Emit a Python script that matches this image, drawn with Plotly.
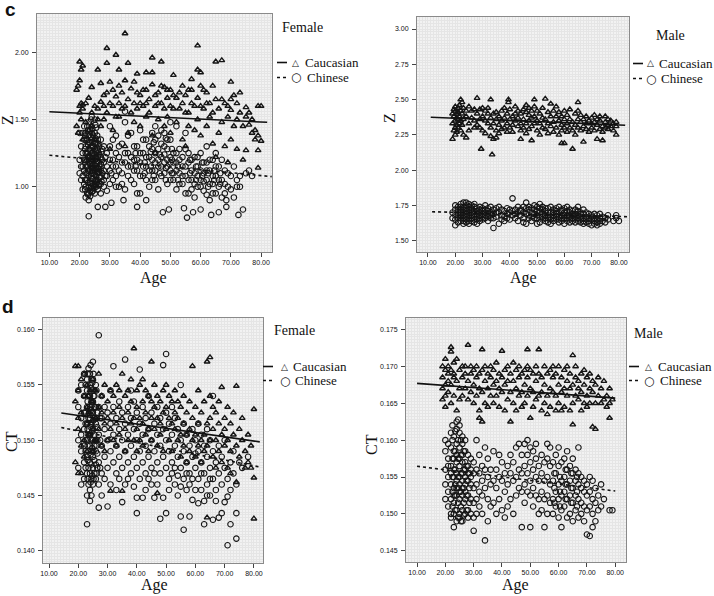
import plotly.graph_objects as go

# ---------------- DATA ----------------
# Panel c, Female: age -> Z values
cF_cau = {19: [1.72, 1.45], 19.5: [1.75, 1.40], 20: [1.79, 1.60, 1.93, 1.55], 20.5: [1.87, 1.62, 1.50],
          21: [1.90, 1.61, 1.58, 1.35], 22: [1.62, 1.48], 23: [1.66, 1.42], 24: [1.74, 1.45, 1.55],
          25: [1.60, 1.35], 26: [1.58, 1.87, 1.50], 27: [1.63, 1.77, 1.45], 28: [1.60, 1.50, 1.68],
          29: [1.70, 2.03, 1.92, 1.55], 30: [1.78, 1.62, 1.28], 31: [1.60, 1.42, 1.72], 32: [1.67, 1.98, 1.52],
          33: [1.75, 1.87, 1.52, 1.62], 34: [1.70, 1.58], 35: [1.79, 2.14, 1.30, 1.60], 36: [1.65, 1.92, 1.40],
          37: [1.73, 1.55], 38: [1.62, 1.48, 1.78], 39: [1.70, 1.84, 1.58], 40: [1.68, 1.45, 1.62],
          41: [1.60, 1.72], 42: [1.72, 1.85, 1.52, 1.62], 43: [1.65, 1.55], 44: [1.76, 1.96, 1.38, 1.85],
          45: [1.60, 1.25, 1.68], 46: [1.70, 1.50, 1.62], 47: [1.62, 1.93, 1.75], 48: [1.74, 1.45, 1.58],
          49: [1.66, 1.52, 1.72], 50: [1.72, 1.40, 1.60], 51: [1.58, 1.83, 1.68], 52: [1.66, 1.48],
          53: [1.70, 1.58], 54: [1.62, 1.35, 1.75], 55: [1.68, 1.30, 1.55], 56: [1.55, 1.45, 1.72],
          57: [1.72, 1.80, 1.62], 58: [1.60, 1.42], 59: [1.66, 2.05, 1.87, 1.50], 60: [1.75, 1.38, 1.85, 1.60],
          61: [1.58, 1.72], 62: [1.70, 1.45, 1.62], 63: [1.62, 1.52], 64: [1.55, 1.32, 1.75],
          65: [1.65, 1.93, 1.22], 66: [1.58, 1.40], 67: [1.48, 1.94, 1.65], 68: [1.62, 1.30],
          69: [1.52, 1.18, 1.60], 70: [1.57, 1.35, 1.78, 1.65], 71: [1.68, 1.45], 72: [1.50, 1.28, 1.62],
          73: [1.55, 1.70], 74: [1.45, 1.20], 75: [1.52, 1.59, 1.27], 76: [1.46, 1.55], 77: [1.40, 1.50],
          78: [1.42, 1.35], 79: [1.38, 1.27, 1.14, 1.60], 80: [1.60, 1.34]}
cF_chi = {20: [1.20, 1.10, 1.40], 20.5: [1.05, 1.30, 1.15], 21: [1.15, 1.25, 0.98, 1.40, 1.08],
          21.5: [1.35, 1.45, 1.02, 1.20, 1.12], 21.8: [1.05, 1.18, 1.28, 1.38, 0.98],
          22: [1.00, 1.10, 1.20, 1.30, 1.40, 0.92, 1.05, 1.15, 1.25, 1.35],
          22.5: [1.05, 1.15, 1.25, 0.95, 1.35, 1.45, 1.10, 1.20], 22.8: [1.03, 1.12, 1.22, 1.31, 1.42, 0.94],
          23: [1.00, 1.08, 1.18, 1.28, 1.38, 1.48, 0.90, 0.95, 1.13, 1.23, 1.33, 0.78],
          23.5: [0.93, 1.12, 1.22, 1.33, 1.03, 1.17, 1.27, 1.42, 0.97], 23.8: [1.00, 1.08, 1.19, 1.29, 1.37, 1.50],
          24: [1.02, 1.10, 1.17, 1.25, 1.35, 1.45, 0.96, 1.06, 1.14, 1.21, 1.30, 1.40, 1.52],
          24.2: [0.99, 1.12, 1.23, 1.33, 1.43],
          24.5: [0.97, 1.06, 1.14, 1.20, 1.30, 1.10, 1.25, 1.38, 1.01, 1.17],
          25: [1.00, 1.09, 1.16, 1.24, 1.40, 1.50, 1.04, 1.12, 1.20, 1.32, 0.95, 1.28],
          25.2: [1.02, 1.14, 1.22, 1.36, 1.46],
          25.5: [1.05, 1.13, 1.21, 1.32, 1.08, 1.17, 1.26, 1.00, 1.44], 25.8: [1.03, 1.11, 1.19, 1.29, 1.38],
          26: [0.98, 1.10, 1.19, 1.27, 0.85, 1.05, 1.14, 1.22, 1.35], 26.2: [1.01, 1.13, 1.24, 1.32],
          26.5: [1.07, 1.15, 1.02, 1.24, 1.30, 1.11], 27: [1.02, 1.12, 1.22, 1.35, 1.07, 1.17, 0.95],
          27.2: [1.04, 1.15, 1.26], 27.5: [1.10, 1.20, 1.28], 28: [1.05, 1.18, 1.00, 1.12, 1.30],
          28.5: [0.85, 1.22, 1.08], 29: [1.25, 0.97, 1.15, 1.08], 30: [1.12, 1.30, 1.02, 1.20, 1.45],
          30.5: [0.88, 1.10], 31: [1.20, 1.05, 1.15, 1.35], 32: [1.15, 1.38, 1.08, 1.25, 1.00],
          33: [1.00, 1.22, 1.12, 1.30], 34: [1.10, 1.32, 1.18, 1.02], 34.5: [0.90],
          35: [1.18, 0.98, 1.48, 1.25, 1.56], 36: [1.25, 1.08, 1.15, 1.38], 37: [1.15, 1.40, 1.05, 1.22],
          38: [1.02, 1.20, 1.12, 1.30], 38.5: [1.15, 1.25], 39: [1.12, 1.30, 0.85, 1.20, 0.95],
          40: [0.95, 1.18, 1.42, 1.25, 1.08], 41: [1.25, 1.08, 1.15, 1.35], 41.5: [1.18, 1.10],
          42: [1.15, 1.35, 0.90, 1.22, 1.05], 43: [1.00, 1.22, 1.12, 1.30], 43.5: [1.15, 1.26],
          44: [1.12, 1.40, 1.20, 1.05, 1.28], 44.5: [1.08, 1.33],
          45: [1.18, 1.05, 1.45, 1.25, 1.35, 1.12], 46: [1.28, 0.98, 1.15, 1.38, 1.20], 46.5: [1.10, 1.24],
          47: [1.15, 1.22, 1.32, 1.08, 1.42], 47.5: [0.81], 48: [1.10, 1.30, 1.40, 1.18, 1.24],
          48.5: [1.14, 1.36, 1.05], 49: [1.20, 1.02, 1.15, 1.28, 1.35], 49.5: [0.83],
          50: [1.12, 1.35, 1.48, 1.22, 1.05, 1.18], 50.5: [1.20, 1.28, 1.10],
          51: [1.05, 1.18, 1.25, 1.10], 52: [1.25, 0.98, 1.45, 1.12, 1.18], 52.5: [1.15, 1.05],
          53: [1.10, 1.20, 1.02, 1.28], 54: [1.15, 1.02, 1.08, 1.22], 54.5: [0.84],
          55: [1.08, 1.28, 1.40, 1.15, 0.95], 55.5: [0.77], 56: [1.18, 0.95, 1.05, 1.25], 56.5: [1.10, 1.20],
          57: [1.12, 1.05, 1.20, 0.98], 57.5: [0.81], 58: [1.22, 0.92, 1.10, 1.02], 58.5: [1.15, 1.05],
          59: [1.08, 1.15, 1.00, 1.22], 60: [1.00, 1.25, 0.83, 1.12, 1.05], 60.5: [1.08, 1.18],
          61: [1.10, 0.97, 1.18, 1.04], 62: [1.05, 1.18, 1.30, 0.94, 1.12], 62.5: [1.10, 1.00],
          63: [1.12, 0.90, 1.02, 1.20], 63.5: [0.79], 64: [1.02, 1.20, 1.08, 0.95], 64.5: [1.12, 1.05],
          65: [1.08, 0.95, 1.25, 1.15], 66: [1.15, 1.00, 0.81, 1.05], 66.5: [1.10, 1.02],
          67: [1.05, 1.20, 0.92], 68: [1.12, 0.95, 1.02], 68.5: [0.85, 0.90], 69: [1.00, 1.10],
          70: [1.08, 0.98], 71: [0.92, 1.15], 72: [1.05, 1.00], 72.5: [0.79], 73: [1.00, 1.08],
          74: [0.83], 75: [1.10], 76: [1.12], 77: [1.08]}

# Panel c, Male: age -> Z values
cM_cau = {19: [2.22, 2.33, 2.40], 19.5: [2.28, 2.38, 2.43], 20: [2.25, 2.35, 2.42, 2.30, 2.45],
          20.5: [2.32, 2.40, 2.27, 2.37], 21: [2.36, 2.44, 2.30, 2.41], 21.5: [2.38, 2.33, 2.46],
          22: [2.50, 2.35, 2.42, 2.28], 22.5: [2.40, 2.48, 2.32], 23: [2.36, 2.44, 2.25], 24: [2.23, 2.38, 2.42],
          25: [2.33, 2.45, 2.28], 26: [2.37, 2.42], 27: [2.35, 2.43, 2.30], 28: [2.51, 2.40, 2.32],
          29: [2.43, 2.36, 2.30], 29.5: [2.15], 30: [2.38, 2.44, 2.28], 31: [2.35, 2.42, 2.26],
          32: [2.40, 2.33, 2.44], 33: [2.50, 2.37, 2.24, 2.30], 33.5: [2.11], 34: [2.33, 2.22, 2.40],
          35: [2.28, 2.36, 2.23, 2.41], 36: [2.32, 2.38, 2.26], 37: [2.35, 2.42, 2.29], 38: [2.30, 2.37, 2.44],
          39: [2.33, 2.40, 2.27], 39.5: [2.50, 2.48], 40: [2.36, 2.43, 2.30], 41: [2.32, 2.38, 2.27],
          42: [2.40, 2.35, 2.45], 43: [2.31, 2.37, 2.42], 44: [2.22, 2.33, 2.40, 2.28], 45: [2.36, 2.43, 2.30],
          46: [2.41, 2.33, 2.46, 2.26], 47: [2.35, 2.39, 2.29, 2.44], 48: [2.31, 2.42, 2.37, 2.21],
          49: [2.50, 2.38, 2.33, 2.45], 50: [2.35, 2.42, 2.28], 51: [2.40, 2.33, 2.25], 52: [2.30, 2.37, 2.44],
          53: [2.505, 2.36, 2.29], 54: [2.41, 2.33, 2.26], 55: [2.38, 2.47, 2.31], 56: [2.34, 2.42, 2.27],
          57: [2.30, 2.38, 2.45], 58: [2.25, 2.35, 2.41], 59: [2.19, 2.32, 2.38, 2.28], 60: [2.19, 2.36, 2.42, 2.30],
          61: [2.33, 2.27, 2.39], 62: [2.30, 2.36, 2.43], 63: [2.15, 2.34, 2.28], 64: [2.32, 2.40, 2.25],
          65: [2.48, 2.36, 2.30, 2.42], 66: [2.34, 2.28, 2.39], 67: [2.20, 2.31, 2.36], 68: [2.33, 2.29, 2.38],
          69: [2.35, 2.27], 70: [2.30, 2.37, 2.33], 71: [2.39, 2.28, 2.34], 72: [2.22, 2.32, 2.36],
          73: [2.35, 2.29, 2.38], 74: [2.21, 2.31, 2.27], 75: [2.38, 2.30, 2.34], 76: [2.36, 2.29, 2.32],
          77: [2.31, 2.35], 78: [2.28, 2.33], 79: [2.25, 2.31, 2.34]}
cM_chi = {19: [1.70, 1.66], 20: [1.68, 1.72, 1.65, 1.75, 1.61], 21: [1.66, 1.70, 1.74, 1.63, 1.72, 1.68],
          22: [1.64, 1.68, 1.72, 1.76, 1.66, 1.70, 1.74], 23: [1.62, 1.66, 1.70, 1.74, 1.77, 1.68, 1.72, 1.64],
          24: [1.63, 1.67, 1.71, 1.75, 1.69, 1.73, 1.65, 1.77], 25: [1.62, 1.66, 1.70, 1.74, 1.68, 1.72, 1.76, 1.64],
          26: [1.64, 1.68, 1.72, 1.75, 1.66, 1.70, 1.73], 27: [1.63, 1.67, 1.71, 1.74, 1.69, 1.65, 1.76],
          28: [1.65, 1.69, 1.73, 1.67, 1.71, 1.62], 29: [1.66, 1.70, 1.74, 1.68, 1.72, 1.64],
          30: [1.65, 1.69, 1.73, 1.67, 1.71], 31: [1.66, 1.70, 1.68, 1.72, 1.75], 32: [1.67, 1.71, 1.69, 1.64, 1.73],
          33: [1.66, 1.70, 1.74, 1.68], 34: [1.59, 1.69, 1.72, 1.66], 35: [1.70, 1.67, 1.73], 36: [1.62, 1.70, 1.74],
          37: [1.68, 1.72, 1.65], 38: [1.71, 1.67, 1.64], 39: [1.69, 1.73, 1.66], 40: [1.70, 1.65, 1.72],
          41: [1.80, 1.68, 1.71], 42: [1.72, 1.66, 1.69], 43: [1.70, 1.74, 1.64], 44: [1.68, 1.72, 1.71],
          45: [1.66, 1.70, 1.74, 1.63], 46: [1.77, 1.69, 1.73, 1.62], 47: [1.68, 1.72, 1.66, 1.74],
          48: [1.70, 1.67, 1.73, 1.64], 49: [1.69, 1.72, 1.66, 1.75], 50: [1.62, 1.68, 1.71, 1.74, 1.66],
          51: [1.63, 1.67, 1.70, 1.73, 1.76], 52: [1.65, 1.69, 1.72, 1.67, 1.74], 53: [1.64, 1.68, 1.71, 1.66, 1.73],
          54: [1.66, 1.70, 1.73, 1.68, 1.63], 55: [1.62, 1.67, 1.70, 1.74, 1.65], 56: [1.64, 1.68, 1.72, 1.66, 1.70],
          57: [1.65, 1.69, 1.73, 1.67, 1.71], 58: [1.63, 1.67, 1.70, 1.74, 1.65], 59: [1.64, 1.68, 1.71, 1.66, 1.72],
          60: [1.62, 1.66, 1.70, 1.73, 1.68], 61: [1.64, 1.68, 1.71, 1.66, 1.74], 62: [1.63, 1.67, 1.70, 1.65, 1.72],
          63: [1.64, 1.68, 1.71, 1.66, 1.69], 64: [1.65, 1.69, 1.72, 1.67, 1.63], 65: [1.64, 1.68, 1.71, 1.74, 1.66],
          66: [1.63, 1.67, 1.70, 1.65, 1.69], 67: [1.62, 1.66, 1.69, 1.72, 1.64], 68: [1.63, 1.67, 1.70, 1.65],
          69: [1.62, 1.66, 1.69, 1.64], 70: [1.61, 1.65, 1.68, 1.67], 71: [1.62, 1.66, 1.69, 1.64],
          72: [1.61, 1.65, 1.68, 1.63], 73: [1.62, 1.66, 1.64, 1.69], 74: [1.64, 1.67], 75: [1.66, 1.63],
          76: [1.68, 1.65], 78: [1.64], 79: [1.66, 1.68], 80: [1.64]}

# Panel d, Female: age -> CT values
dF_cau = {19: [0.1535, 0.1480, 0.1567], 20: [0.1510, 0.1545, 0.1470, 0.1520, 0.1567],
          21: [0.1525, 0.1495, 0.1555, 0.1470], 22: [0.1500, 0.1540, 0.1485, 0.1560],
          23: [0.1515, 0.1490, 0.1550, 0.1530], 23.5: [0.1540, 0.1505, 0.1525], 24: [0.1525, 0.1505, 0.1545],
          24.5: [0.1515, 0.1535], 25: [0.1510, 0.1535, 0.1490, 0.1555], 25.5: [0.1500, 0.1545],
          26: [0.1520, 0.1500, 0.1545], 27: [0.1530, 0.1510, 0.1560], 28: [0.1495, 0.1525, 0.1540],
          29: [0.1515, 0.1550, 0.1490], 30: [0.1520, 0.1535, 0.1500], 31: [0.1510, 0.1545, 0.1454],
          32: [0.1525, 0.1500, 0.1540], 33: [0.1515, 0.1550, 0.1495], 34: [0.1530, 0.1505, 0.1545],
          35: [0.1520, 0.1454, 0.1560], 36: [0.1510, 0.1540, 0.1490], 37: [0.1525, 0.1545, 0.1500],
          38: [0.1515, 0.1535, 0.1555], 39: [0.1583, 0.1520, 0.1500], 40: [0.1530, 0.1510, 0.1545, 0.1490],
          41: [0.1520, 0.1550, 0.1500], 42: [0.1535, 0.1515, 0.1555, 0.1495], 43: [0.1525, 0.1505, 0.1545],
          44: [0.1540, 0.1510, 0.1490], 45: [0.1571, 0.1520, 0.1535, 0.1500], 46: [0.1530, 0.1510, 0.1550],
          47: [0.1452, 0.1520, 0.1540, 0.1495], 48: [0.1515, 0.1535, 0.1505], 49: [0.1525, 0.1545, 0.1490],
          50: [0.1530, 0.1510, 0.1550], 51: [0.1520, 0.1500, 0.1540], 52: [0.1535, 0.1515, 0.1490],
          53: [0.1510, 0.1525, 0.1545], 54: [0.1520, 0.1500, 0.1535], 55: [0.1505, 0.1530, 0.1485],
          56: [0.1515, 0.1540, 0.1495], 57: [0.1525, 0.1505, 0.1480], 58: [0.1510, 0.1535, 0.1490],
          59: [0.1567, 0.1520, 0.1500], 60: [0.1505, 0.1530, 0.1485], 61: [0.1515, 0.1495, 0.1545],
          62: [0.1525, 0.1500, 0.1480], 63: [0.1505, 0.1535, 0.1490], 64: [0.1571, 0.1515, 0.1495, 0.1430],
          65: [0.1520, 0.1500, 0.1540, 0.1575], 66: [0.1510, 0.1485, 0.1530], 67: [0.1500, 0.1525, 0.1475],
          68: [0.1515, 0.1490, 0.1535], 69: [0.1548, 0.1505, 0.1480], 70: [0.1520, 0.1495, 0.1510],
          71: [0.1500, 0.1530, 0.1475], 72: [0.1515, 0.1490, 0.1470], 73: [0.1505, 0.1525],
          74: [0.1549, 0.1462, 0.1495], 75: [0.1510, 0.1485], 76: [0.1500, 0.1520], 77: [0.1490, 0.1475],
          78: [0.1505, 0.1480], 79: [0.1495, 0.1475], 80: [0.1528, 0.1466, 0.1429]}
dF_chi = {20: [0.1500, 0.1530, 0.1475, 0.1545], 21: [0.1490, 0.1520, 0.1460, 0.1550, 0.1505],
          22: [0.1480, 0.1510, 0.1540, 0.1465, 0.1525, 0.1495, 0.1560],
          22.5: [0.1475, 0.1500, 0.1525, 0.1550, 0.1490, 0.1515],
          23: [0.1470, 0.1500, 0.1530, 0.1555, 0.1485, 0.1515, 0.1450, 0.1545, 0.1424],
          23.2: [0.1465, 0.1495, 0.1510, 0.1535, 0.1560, 0.1482],
          23.5: [0.1460, 0.1490, 0.1520, 0.1540, 0.1505, 0.1475, 0.1565],
          24: [0.1455, 0.1480, 0.1505, 0.1530, 0.1550, 0.1470, 0.1495, 0.1520, 0.1540, 0.1445, 0.1560],
          24.2: [0.1462, 0.1487, 0.1512, 0.1527, 0.1547, 0.1568],
          24.5: [0.1465, 0.1490, 0.1515, 0.1535, 0.1500, 0.1478, 0.1525, 0.1555, 0.1450],
          24.8: [0.1468, 0.1493, 0.1508, 0.1532, 0.1552],
          25: [0.1460, 0.1485, 0.1510, 0.1535, 0.1555, 0.1475, 0.1500, 0.1525, 0.1545, 0.1571],
          25.2: [0.1465, 0.1490, 0.1518, 0.1540, 0.1560],
          25.5: [0.1470, 0.1495, 0.1520, 0.1540, 0.1505, 0.1482, 0.1530],
          26: [0.1465, 0.1490, 0.1515, 0.1500, 0.1530, 0.1550, 0.1478], 26.2: [0.1470, 0.1495, 0.1520, 0.1545],
          26.5: [0.1475, 0.1500, 0.1525, 0.1488, 0.1512], 27: [0.1480, 0.1505, 0.1439, 0.1460, 0.1530, 0.1595],
          27.5: [0.1475, 0.1500, 0.1520],
          28: [0.1470, 0.1495, 0.1520, 0.1450, 0.1540], 29: [0.1485, 0.1510, 0.1465, 0.1530],
          30: [0.1475, 0.1500, 0.1440, 0.1525], 31: [0.1490, 0.1460, 0.1515, 0.1545],
          32: [0.1480, 0.1505, 0.1567, 0.1530], 33: [0.1470, 0.1495, 0.1520, 0.1455],
          34: [0.1485, 0.1510, 0.1465, 0.1535], 35: [0.1475, 0.1444, 0.1500, 0.1525],
          36: [0.1490, 0.1573, 0.1460, 0.1515], 37: [0.1480, 0.1505, 0.1530, 0.1465],
          38: [0.1470, 0.1495, 0.1520, 0.1545], 39: [0.1485, 0.1458, 0.1510, 0.1535],
          40: [0.1434, 0.1448, 0.1475, 0.1500, 0.1525], 41: [0.1490, 0.1564, 0.1465, 0.1515],
          42: [0.1448, 0.1480, 0.1505, 0.1530], 43: [0.1470, 0.1495, 0.1520, 0.1455],
          44: [0.1485, 0.1510, 0.1465, 0.1540], 45: [0.1475, 0.1500, 0.1525, 0.1460],
          46: [0.1448, 0.1490, 0.1515, 0.1470], 47: [0.1480, 0.1505, 0.1530, 0.1460],
          48: [0.1429, 0.1470, 0.1495, 0.1520], 49: [0.1568, 0.1448, 0.1485, 0.1510],
          50: [0.1578, 0.1434, 0.1475, 0.1500, 0.1525], 51: [0.1465, 0.1490, 0.1515, 0.1455],
          52: [0.1480, 0.1505, 0.1470, 0.1530], 53: [0.1460, 0.1495, 0.1520, 0.1475],
          54: [0.1450, 0.1485, 0.1510, 0.1468], 55: [0.1431, 0.1475, 0.1500, 0.1458, 0.1550],
          56: [0.1419, 0.1465, 0.1490, 0.1515], 57: [0.1455, 0.1480, 0.1505, 0.1470],
          58: [0.1431, 0.1470, 0.1495, 0.1460], 59: [0.1446, 0.1485, 0.1510, 0.1465],
          60: [0.1475, 0.1500, 0.1455, 0.1488], 61: [0.1443, 0.1465, 0.1490, 0.1515],
          62: [0.1455, 0.1480, 0.1505, 0.1470], 63: [0.1424, 0.1445, 0.1470, 0.1495],
          64: [0.1460, 0.1485, 0.1450, 0.1510], 65: [0.1450, 0.1475, 0.1500, 0.1465],
          66: [0.1428, 0.1465, 0.1490, 0.1540], 67: [0.1455, 0.1480, 0.1445], 68: [0.1430, 0.1470, 0.1495],
          69: [0.1434, 0.1460, 0.1485], 70: [0.1444, 0.1475, 0.1500], 71: [0.1405, 0.1449, 0.1465],
          72: [0.1424, 0.1480, 0.1455], 73: [0.1470, 0.1490], 74: [0.1411, 0.1434, 0.1460],
          75: [0.1480], 76: [0.1475], 78: [0.1485]}

# Panel d, Male: age -> CT values
dM_cau = {19: [0.1685, 0.1670, 0.1655, 0.1700], 20: [0.1695, 0.1675, 0.1660, 0.1645, 0.1710],
          21: [0.1700, 0.1680, 0.1665, 0.1690], 22: [0.1726, 0.1720, 0.1695, 0.1675, 0.1650],
          23: [0.1705, 0.1685, 0.1660, 0.1690], 24: [0.1710, 0.1680, 0.1640], 25: [0.1695, 0.1670, 0.1655],
          26: [0.1700, 0.1685, 0.1660], 27: [0.1690, 0.1670, 0.1700], 28: [0.1729, 0.1680, 0.1655],
          29: [0.1700, 0.1665, 0.1690], 30: [0.1695, 0.1675, 0.1650], 31: [0.1700, 0.1660, 0.1685],
          32: [0.1690, 0.1670, 0.1640, 0.1630], 33: [0.1723, 0.1695, 0.1665, 0.1625], 34: [0.1680, 0.1650, 0.1700],
          35: [0.1690, 0.1670, 0.1645], 36: [0.1685, 0.1660, 0.1700], 37: [0.1695, 0.1675, 0.1650],
          38: [0.1680, 0.1660, 0.1705], 39: [0.1690, 0.1670, 0.1645], 40: [0.1721, 0.1685, 0.1665],
          41: [0.1695, 0.1675, 0.1640], 42: [0.1700, 0.1680, 0.1655], 43: [0.1690, 0.1665, 0.1625],
          44: [0.1705, 0.1680, 0.1650], 45: [0.1695, 0.1670, 0.1640], 46: [0.1700, 0.1685, 0.1660],
          47: [0.1690, 0.1665, 0.1645], 48: [0.1695, 0.1675, 0.1650], 49: [0.1723, 0.1685, 0.1660, 0.1700],
          50: [0.1695, 0.1670, 0.1630], 51: [0.1690, 0.1665, 0.1645], 52: [0.1700, 0.1680, 0.1655],
          53: [0.1723, 0.1690, 0.1660], 54: [0.1685, 0.1665, 0.1640], 55: [0.1700, 0.1675, 0.1650],
          56: [0.1690, 0.1660, 0.1635], 57: [0.1695, 0.1670, 0.1645], 58: [0.1685, 0.1665, 0.1700],
          59: [0.1690, 0.1660, 0.1640], 60: [0.1700, 0.1675, 0.1650], 61: [0.1685, 0.1665, 0.1640],
          62: [0.1695, 0.1670, 0.1645], 63: [0.1680, 0.1660, 0.1700], 64: [0.1690, 0.1670, 0.1640],
          65: [0.1715, 0.1675, 0.1650, 0.1621], 66: [0.1685, 0.1660, 0.1700], 67: [0.1680, 0.1655, 0.1670],
          68: [0.1690, 0.1665, 0.1640], 69: [0.1675, 0.1650, 0.1695], 70: [0.1685, 0.1660, 0.1645],
          71: [0.1670, 0.1690, 0.1650], 72: [0.1618, 0.1665, 0.1680], 73: [0.1675, 0.1650, 0.1615],
          74: [0.1685, 0.1660], 75: [0.1670, 0.1650], 76: [0.1680, 0.1655], 77: [0.1660, 0.1645],
          78: [0.1630, 0.1650, 0.1670], 79: [0.1655]}
dM_chi = {20: [0.1560, 0.1540, 0.1585, 0.1520, 0.1600], 21: [0.1550, 0.1530, 0.1575, 0.1510, 0.1595, 0.1565],
          22: [0.1540, 0.1520, 0.1565, 0.1500, 0.1590, 0.1555, 0.1610, 0.1495],
          22.5: [0.1530, 0.1550, 0.1575, 0.1600, 0.1510, 0.1620],
          23: [0.1535, 0.1515, 0.1560, 0.1500, 0.1585, 0.1550, 0.1605, 0.1482, 0.1525, 0.1575],
          23.5: [0.1540, 0.1560, 0.1585, 0.1505, 0.1525, 0.1612],
          24: [0.1545, 0.1525, 0.1570, 0.1505, 0.1595, 0.1555, 0.1615, 0.1490, 0.1535, 0.1580, 0.1625],
          24.5: [0.1535, 0.1550, 0.1575, 0.1600, 0.1515, 0.1495, 0.1628],
          25: [0.1540, 0.1520, 0.1565, 0.1500, 0.1590, 0.1550, 0.1610, 0.1495, 0.1530, 0.1575, 0.1620],
          25.5: [0.1530, 0.1555, 0.1580, 0.1600, 0.1510, 0.1490],
          26: [0.1545, 0.1525, 0.1570, 0.1505, 0.1595, 0.1555, 0.1605, 0.1490, 0.1535, 0.1580],
          26.5: [0.1535, 0.1560, 0.1585, 0.1515, 0.1498],
          27: [0.1540, 0.1520, 0.1560, 0.1500, 0.1585, 0.1550, 0.1600, 0.1530, 0.1570],
          27.5: [0.1545, 0.1565, 0.1525, 0.1505],
          28: [0.1545, 0.1525, 0.1565, 0.1505, 0.1580, 0.1555, 0.1495], 28.5: [0.1535, 0.1555, 0.1515],
          29: [0.1540, 0.1520, 0.1560, 0.1500, 0.1575, 0.1550], 30: [0.1535, 0.1515, 0.1555, 0.1477, 0.1570, 0.1495],
          31: [0.1540, 0.1520, 0.1560, 0.1600, 0.1500], 32: [0.1530, 0.1555, 0.1510, 0.1580],
          33: [0.1545, 0.1525, 0.1565, 0.1500], 34: [0.1464, 0.1535, 0.1560, 0.1590],
          35: [0.1550, 0.1520, 0.1575, 0.1490], 36: [0.1540, 0.1510, 0.1560], 37: [0.1545, 0.1585, 0.1515],
          38: [0.1535, 0.1560, 0.1500], 39: [0.1550, 0.1580, 0.1520], 40: [0.1545, 0.1570, 0.1505],
          41: [0.1530, 0.1555, 0.1495], 42: [0.1540, 0.1565, 0.1510], 43: [0.1555, 0.1520, 0.1580],
          44: [0.1545, 0.1500, 0.1570], 45: [0.1550, 0.1525, 0.1590], 46: [0.1560, 0.1535, 0.1595],
          47: [0.1482, 0.1555, 0.1580, 0.1530], 48: [0.1565, 0.1540, 0.1595, 0.1515],
          49: [0.1555, 0.1580, 0.1530, 0.1600], 50: [0.1482, 0.1545, 0.1570, 0.1525, 0.1590],
          51: [0.1560, 0.1535, 0.1585, 0.1510], 52: [0.1550, 0.1575, 0.1525, 0.1595],
          53: [0.1545, 0.1565, 0.1520, 0.1500], 54: [0.1555, 0.1530, 0.1580, 0.1505],
          55: [0.1482, 0.1545, 0.1570, 0.1520], 56: [0.1550, 0.1525, 0.1575, 0.1500, 0.1595],
          57: [0.1540, 0.1565, 0.1515, 0.1590], 58: [0.1545, 0.1520, 0.1570, 0.1500],
          58.5: [0.1535, 0.1555, 0.1515], 59: [0.1555, 0.1530, 0.1580, 0.1510],
          60: [0.1540, 0.1520, 0.1565, 0.1495, 0.1590], 60.5: [0.1530, 0.1550, 0.1510],
          61: [0.1482, 0.1545, 0.1525, 0.1570, 0.1505], 62: [0.1550, 0.1530, 0.1575, 0.1510],
          62.5: [0.1540, 0.1560, 0.1520], 63: [0.1540, 0.1520, 0.1560, 0.1495, 0.1585],
          64: [0.1545, 0.1525, 0.1565, 0.1500], 64.5: [0.1535, 0.1555, 0.1515],
          65: [0.1535, 0.1515, 0.1555, 0.1490, 0.1575], 66: [0.1545, 0.1525, 0.1560, 0.1505],
          66.5: [0.1530, 0.1550, 0.1510], 67: [0.1540, 0.1520, 0.1555, 0.1495, 0.1590],
          68: [0.1535, 0.1515, 0.1550, 0.1500], 69: [0.1530, 0.1510, 0.1545, 0.1490],
          70: [0.1472, 0.1525, 0.1505, 0.1540], 71: [0.1470, 0.1530, 0.1510, 0.1550],
          72: [0.1482, 0.1520, 0.1500, 0.1545], 73: [0.1515, 0.1535, 0.1490], 74: [0.1525, 0.1505],
          75: [0.1510, 0.1540], 76: [0.1520], 78: [0.1505], 79: [0.1505]}

# Regression (fit) lines: end points
cF_fit_cau_age, cF_fit_cau = [10, 82], [1.558, 1.479]
cF_fit_chi_age, cF_fit_chi = [10, 83.5], [1.234, 1.075]
cM_fit_cau_age, cM_fit_cau = [11, 82.3], [2.375, 2.318]
cM_fit_chi_age, cM_fit_chi = [11.5, 83.3], [1.705, 1.670]
dF_fit_cau_age, dF_fit_cau = [14.2, 82], [0.15247, 0.14985]
dF_fit_chi_age, dF_fit_chi = [14.2, 82], [0.15115, 0.14758]
dM_fit_cau_age, dM_fit_cau = [10, 80], [0.1677, 0.1657]
dM_fit_chi_age, dM_fit_chi = [10, 80], [0.15646, 0.1531]

x_ticks = [10, 20, 30, 40, 50, 60, 70, 80]
cF_yticks = [1.00, 1.50, 2.00]
cM_yticks = [1.50, 1.75, 2.00, 2.25, 2.50, 2.75, 3.00]
dF_yticks = [0.140, 0.145, 0.150, 0.155, 0.160]
dM_yticks = [0.145, 0.150, 0.155, 0.160, 0.165, 0.170, 0.175]

# ---------------- FIGURE ----------------
W, H = 714, 596
def fx(p): return p / W
def fy(p): return 1 - p / H

def flat(d):
    xs, ys = [], []
    for a, vals in d.items():
        for v in vals:
            xs.append(a); ys.append(v)
    return xs, ys

MK = '#151515'
fig = go.Figure()

panels = [
    dict(ax='', cau=cF_cau, chi=cF_chi,
         fca=(cF_fit_cau_age, cF_fit_cau), fch=(cF_fit_chi_age, cF_fit_chi),
         xd=(37, 272), yd=(14, 252), xr=[5.9, 83.6], yr=[0.514, 2.285], yt=cF_yticks, yf='.2f', ym=0.02),
    dict(ax='2', cau=cM_cau, chi=cM_chi,
         fca=(cM_fit_cau_age, cM_fit_cau), fch=(cM_fit_chi_age, cM_fit_chi),
         xd=(417, 629), yd=(17, 252), xr=[5.97, 83.7], yr=[1.42, 3.085], yt=cM_yticks, yf='.2f', ym=0.02),
    dict(ax='3', cau=dF_cau, chi=dF_chi,
         fca=(dF_fit_cau_age, dF_fit_cau), fch=(dF_fit_chi_age, dF_fit_chi),
         xd=(43, 263), yd=(318, 563), xr=[7.95, 83.1], yr=[0.13889, 0.16106], yt=dF_yticks, yf='.3f', ym=0.00025),
    dict(ax='4', cau=dM_cau, chi=dM_chi,
         fca=(dM_fit_cau_age, dM_fit_cau), fch=(dM_fit_chi_age, dM_fit_chi),
         xd=(406, 626), yd=(318, 562), xr=[6.1, 83.8], yr=[0.14347, 0.17657], yt=dM_yticks, yf='.3f', ym=0.0004),
]

layout_axes = {}
for p in panels:
    xa, ya = 'x' + p['ax'], 'y' + p['ax']
    cx, cy = flat(p['cau'])
    hx, hy = flat(p['chi'])
    fig.add_trace(go.Scatter(x=hx, y=hy, mode='markers', xaxis=xa, yaxis=ya, showlegend=False,
                             marker=dict(symbol='circle-open', size=5.5, color=MK, line=dict(width=1.1, color=MK))))
    fig.add_trace(go.Scatter(x=cx, y=cy, mode='markers', xaxis=xa, yaxis=ya, showlegend=False,
                             marker=dict(symbol='triangle-up-open', size=5, color=MK, line=dict(width=1.4, color=MK))))
    fig.add_trace(go.Scatter(x=p['fca'][0], y=p['fca'][1], mode='lines', xaxis=xa, yaxis=ya, showlegend=False,
                             line=dict(color='#111', width=1.6)))
    fig.add_trace(go.Scatter(x=p['fch'][0], y=p['fch'][1], mode='lines', xaxis=xa, yaxis=ya, showlegend=False,
                             line=dict(color='#111', width=1.6, dash='dot')))
    common = dict(showline=True, mirror=True, linecolor='#8a8a8a', linewidth=1, zeroline=False,
                  ticks='outside', ticklen=4, tickcolor='#444', tickwidth=1, automargin=False,
                  tickfont=dict(family='Liberation Sans', size=7, color='#111'), showgrid=False)
    xkey = 'xaxis' + p['ax']; ykey = 'yaxis' + p['ax']
    layout_axes[xkey] = dict(common, domain=[fx(p['xd'][0]), fx(p['xd'][1])], range=p['xr'],
                             tickvals=x_ticks, tickformat='.2f', anchor=ya,
                             minor=dict(dtick=1, tick0=0, showgrid=True, gridcolor='#e5e5e5', gridwidth=1, ticks=''))
    layout_axes[ykey] = dict(common, domain=[fy(p['yd'][1]), fy(p['yd'][0])], range=p['yr'],
                             tickvals=p['yt'], tickformat=p['yf'], anchor=xa, ticklabelstandoff=2,
                             minor=dict(dtick=p['ym'], tick0=0, showgrid=True, gridcolor='#e5e5e5', gridwidth=1, ticks=''))

fig.update_layout(width=W, height=H, margin=dict(l=0, r=0, t=0, b=0), template='none',
                  paper_bgcolor='white', plot_bgcolor='#f2f2f2', **layout_axes)

SERIF = 'Liberation Serif'
ann = []
def txt(t, x, y, size=14, family=SERIF, angle=0, xanchor='center', bold=False):
    ann.append(dict(text=('<b>%s</b>' % t) if bold else t, x=fx(x), y=fy(y), xref='paper', yref='paper',
                    showarrow=False, xanchor=xanchor, yanchor='middle', textangle=angle,
                    font=dict(family=family, size=size, color='#111')))

# panel letters
txt('c', 10, 9, size=19, family='Liberation Sans', bold=True)
txt('d', 8, 306, size=19, family='Liberation Sans', bold=True)
# axis titles
txt('Z', 8, 120, size=16, angle=-90)
txt('Age', 153, 278, size=16)
txt('Z', 389, 118, size=16, angle=-90)
txt('Age', 523, 278, size=16)
txt('CT', 11, 442, size=16, angle=-90)
txt('Age', 154, 585, size=16)
txt('CT', 372, 445, size=16, angle=-90)
txt('Age', 515, 585, size=16)

shapes = []
def legend(title, tx, ty, lx, y1, y2, sym_x, text_x):
    txt(title, tx, ty, size=14, xanchor='left')
    shapes.append(dict(type='line', xref='paper', yref='paper', x0=fx(lx), x1=fx(lx + 10), y0=fy(y1), y1=fy(y1),
                       line=dict(color='#111', width=1.6)))
    shapes.append(dict(type='line', xref='paper', yref='paper', x0=fx(lx), x1=fx(lx + 11), y0=fy(y2), y1=fy(y2),
                       line=dict(color='#111', width=1.6, dash='dot')))
    txt('△', sym_x, y1, size=9, family='DejaVu Sans')
    txt('○', sym_x + 1, y2, size=12, family='DejaVu Sans')
    txt('Caucasian', text_x, y1, size=13, xanchor='left')
    txt('Chinese', text_x + 2, y2, size=13, xanchor='left')

legend('Female', 280, 27, 277, 62.5, 77.5, 295, 303)
legend('Male', 654, 35, 633, 63.5, 78.5, 650, 657)
legend('Female', 272, 330, 263, 366.5, 380.5, 284, 291)
legend('Male', 632, 333, 629, 366.5, 380.5, 648, 656)

fig.update_layout(annotations=ann, shapes=shapes)
fig.write_html('out.html', config={'displayModeBar': False, 'staticPlot': True},
               post_script="document.body.style.margin='0px';document.body.style.overflow='hidden';")
